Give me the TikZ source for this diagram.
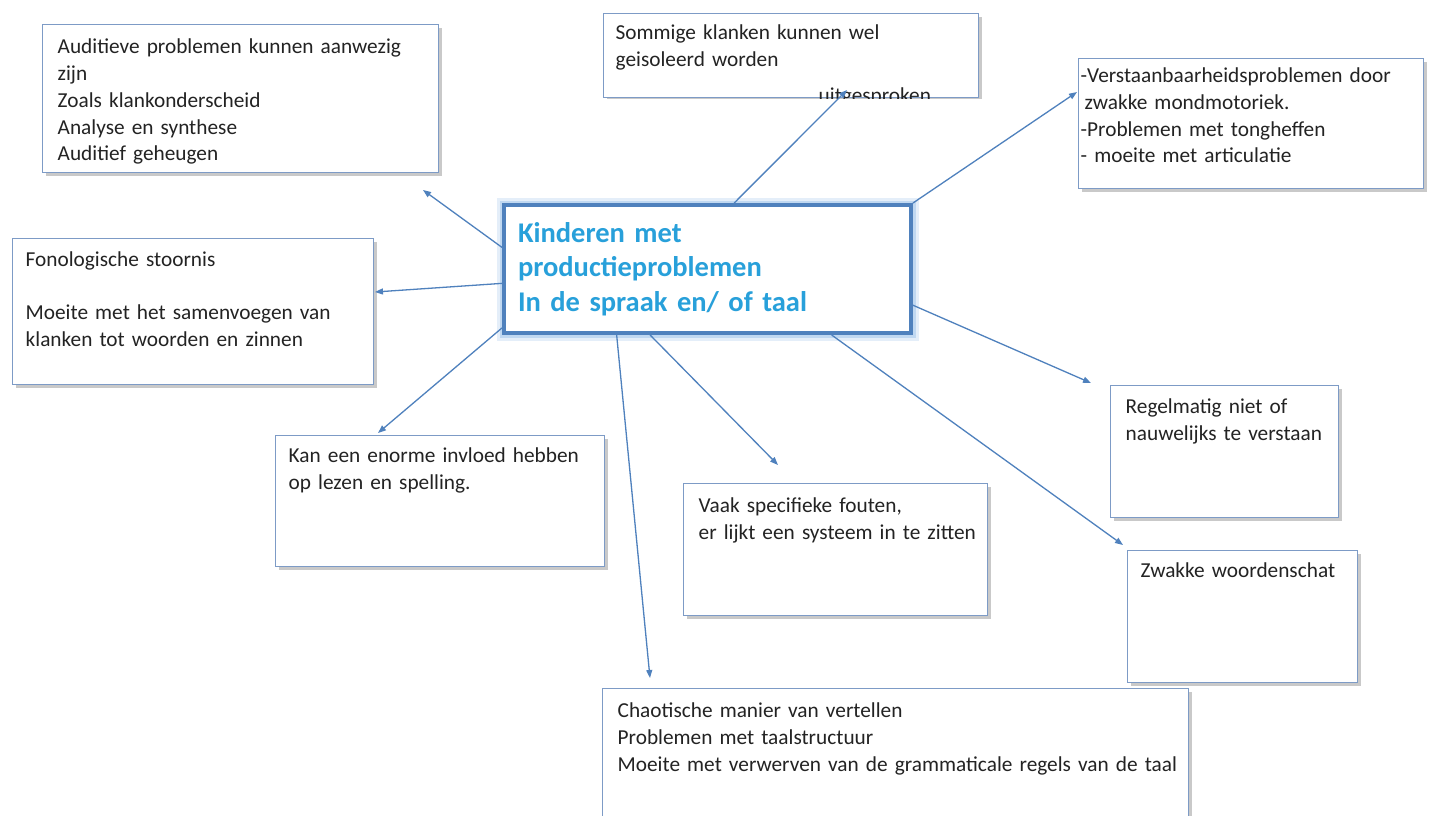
\documentclass[tikz,border=0pt]{standalone}
\usepackage{fontspec}
\setmainfont{Carlito}
\usetikzlibrary{arrows.meta,shadows}

\definecolor{accent}{RGB}{79,129,189}
\definecolor{glow}{RGB}{150,190,232}
\definecolor{titleblue}{RGB}{40,160,218}
\definecolor{cardline}{RGB}{125,155,198}
\definecolor{cardink}{RGB}{35,35,35}

\tikzset{
    card/.style={draw=cardline, line width=1.4pt, fill=white, anchor=north west,
        inner sep=0pt, align=left, text=cardink, font=\fontsize{21.3}{26.7}\selectfont,
        drop shadow={shadow xshift=3pt, shadow yshift=-3pt, fill=black!60, opacity=.35}},
    textinset/.style={execute at begin node={\leftskip=#1}},
    hub/.style={draw=accent, line width=4pt, fill=white, minimum width=407pt, minimum height=128pt,
        text width=379pt, inner xsep=14pt, align=left, text=titleblue,
        font=\fontsize{28.5}{34.5}\selectfont\bfseries,
        preaction={draw=glow, line width=15pt, opacity=.25},
        preaction={draw=glow, line width=9pt, opacity=.45}},
    link/.style={->, draw=accent, line width=1.3pt}
}

\begin{document}
\begin{tikzpicture}[x=1pt, y=-1pt, >={Triangle[length=8pt,width=6pt]}]
    \fill[white] (0,0) rectangle (1436,816);
    \useasboundingbox (0,0) rectangle (1436,816);

    \node[hub] (ctr) at (707.5,269) {Kinderen met\\ productieproblemen\\ In de spraak en/ of taal};

    \node[card, text width=396pt, text height=29.3pt, text depth=118.7pt, textinset=15pt] (aud) at (42,24)
        {Auditieve problemen kunnen aanwezig\\ zijn\\ Zoals klankonderscheid\\ Analyse en synthese\\ Auditief geheugen};
    \begin{scope}
        \clip (590,0) rectangle (1000,98.5);
        \node[card, text width=375pt, text height=26pt, text depth=58pt, textinset=12pt] (som) at (603,13)
            {Sommige klanken kunnen wel\\ geisoleerd worden\\[9pt] \hspace*{203pt}uitgesproken};
    \end{scope}
    \node[card, text width=345pt, text height=24pt, text depth=106pt, textinset=2pt] (ver) at (1078,58)
        {-Verstaanbaarheidsproblemen door\\ \hspace*{4pt}zwakke mondmotoriek.\\ -Problemen met tongheffen\\ - moeite met articulatie};
    \node[card, text width=361pt, text height=27.5pt, text depth=118.5pt, textinset=13pt] (fon) at (12,238)
        {Fonologische stoornis\\[26.7pt] Moeite met het samenvoegen van\\ klanken tot woorden en zinnen};
    \node[card, text width=329pt, text height=27pt, text depth=104pt, textinset=13pt] (kan) at (275,435)
        {Kan een enorme invloed hebben\\ op lezen en spelling.};
    \node[card, text width=304pt, text height=29pt, text depth=103pt, textinset=15pt] (vaak) at (683,483)
        {Vaak specifieke fouten,\\ er lijkt een systeem in te zitten};
    \node[card, text width=228pt, text height=28pt, text depth=104pt, textinset=15pt] (reg) at (1110,385)
        {Regelmatig niet of\\ nauwelijks te verstaan};
    \node[card, text width=230pt, text height=27pt, text depth=105pt, textinset=13pt] (zwa) at (1127,550)
        {Zwakke woordenschat};
    \node[card, text width=586pt, text height=29pt, text depth=111pt, textinset=15pt] (cha) at (602,688)
        {Chaotische manier van vertellen\\ Problemen met taalstructuur\\ Moeite met verwerven van de grammaticale regels van de taal};

    % free ends of the arrows
    \coordinate (aud-in) at (423,190);
    \coordinate (som-in) at (847,90);
    \coordinate (ver-in) at (1077,92);
    \coordinate (fon-in) at (375,292);
    \coordinate (kan-in) at (378,433);
    \coordinate (cha-in) at (650,678);
    \coordinate (vaak-in) at (778,465);
    \coordinate (zwa-in) at (1123,545);
    \coordinate (reg-in) at (1091,383);

    \foreach \a/\t in {174.2/aud-in, 68.9/som-in, north east/ver-in, 184.9/fon-in, 196.4/kan-in,
                       216.6/cha-in, 229.4/vaak-in, 332.1/zwa-in, 350.4/reg-in} {
        \draw[link] (ctr.\a) -- (\t);
    }
\end{tikzpicture}
\end{document}
